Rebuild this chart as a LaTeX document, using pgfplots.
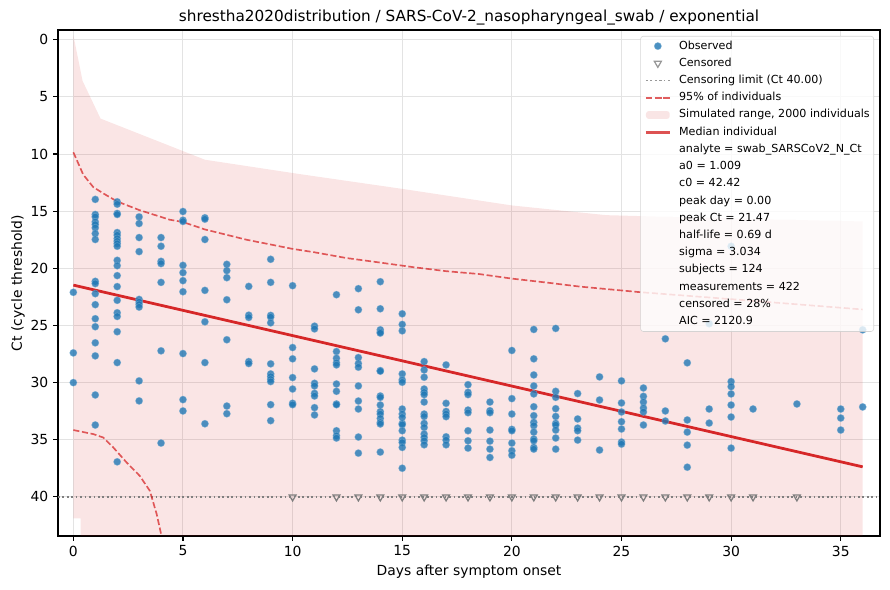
\documentclass[border=0pt]{standalone}
\usepackage{fontspec}
\setmainfont{DejaVu Sans}
\usepackage{pgfplots}
\pgfplotsset{compat=1.18}
\definecolor{tabblue}{HTML}{1F77B4}
\definecolor{tabred}{HTML}{D62728}
\definecolor{cengray}{HTML}{7F7F7F}
\begin{document}
\begin{tikzpicture}[x=1pt,y=1pt]
\path[use as bounding box] (0,0) rectangle (640.8,424.8);
\begin{axis}[
  at={(41.76pt,38.88pt)}, anchor=south west,
  width=591.84pt, height=364.32pt, scale only axis,
  xmin=-0.70, xmax=36.79,
  ymin=-0.85, ymax=43.42, y dir=reverse,
  xtick={0,5,...,35}, ytick={0,5,...,40},
  xtick pos=bottom, ytick pos=left,
  tick align=outside, major tick length=3.5pt,
  tick style={black, line width=0.8pt},
  axis line style={black, line width=0.8pt},
  grid=major, grid style={black!11, line width=0.7pt},
  /pgf/number format/assume math mode=true,
  ticklabel style={font=\fontsize{10}{12}\selectfont},
  xlabel={Days after symptom onset},
  ylabel={Ct (cycle threshold)},
  xlabel style={font=\fontsize{10}{12}\selectfont, at={(axis description cs:0.5,-0.0711)}, anchor=center},
  ylabel style={font=\fontsize{10}{12}\selectfont, at={(axis description cs:-0.0487,0.5)}, anchor=center, rotate=0},
  title={shrestha2020distribution / SARS-CoV-2\_nasopharyngeal\_swab / exponential},
  title style={font=\fontsize{11}{13}\selectfont, at={(axis description cs:0.5,1)}, anchor=base},
  legend style={at={(1,1)}, anchor=north east, xshift=-4.3pt, yshift=-4.3pt,
    draw=black!20, fill=white, fill opacity=0.8, draw opacity=0.8, text opacity=1,
    rounded corners=2pt, font=\fontsize{8}{9.6}\selectfont,
    inner xsep=2.9pt, inner ysep=3.2pt, row sep=4.6pt, column sep=5.8pt,
    nodes={inner xsep=0pt, inner ysep=0pt, text height=6pt, text depth=1.8pt},
    cells={anchor=west}},
]
% simulated range
\addplot[fill=tabred, fill opacity=0.12, draw=none, forget plot] coordinates {
 (0,-0.4) (0.42,3.6) (1.24,6.9) (6.0,10.5) (10.3,11.75) (15,13.05) (20,14.5) (24.3,15.35) (30,15.65) (36,15.9)
 (36,50) (0.34,50) (0.33,41.87) (0,41.87)
} -- cycle;
% observed
\addplot[only marks, mark=*, mark size=2.6pt, forget plot,
  mark options={fill=tabblue, draw=tabblue!60!white, fill opacity=0.8, draw opacity=0.6, line width=0.4pt}]
 coordinates {
 (0,22.1) (0,27.4) (0,30.0)
 (1,13.97) (1,15.29) (1,15.5) (1,15.94) (1,16.17) (1,16.46) (1,16.96) (1,17.48) (1,21.14) (1,21.34) (1,22.22) (1,23.18) (1,24.41) (1,25.11) (1,26.52) (1,27.66) (1,31.08) (1,33.71)
 (2,14.18) (2,14.39) (2,15.2) (2,15.29) (2,16.87) (2,17.1) (2,17.4) (2,17.63) (2,17.84) (2,18.07) (2,19.3) (2,19.77) (2,20.64) (2,21.6) (2,22.8) (2,23.89) (2,24.21) (2,25.55) (2,28.25) (2,36.93)
 (3,15.5) (3,16.08) (3,17.31) (3,18.54) (3,22.72) (3,22.95) (3,23.16) (3,23.39) (3,29.85) (3,31.6)
 (4,17.31) (4,18.07) (4,19.39) (4,19.59) (4,21.23) (4,27.22) (4,35.29)
 (5,15.03) (5,15.79) (5,15.9) (5,19.74) (5,20.38) (5,21.08) (5,22.05) (5,27.46) (5,31.49) (5,32.48)
 (6,15.58) (6,15.7) (6,17.48) (6,21.93) (6,24.68) (6,28.25) (6,33.6)
 (7,19.65) (7,20.2) (7,20.82) (7,22.75) (7,26.25) (7,32.05) (7,32.72)
 (8,21.58) (8,24.1) (8,24.3) (8,28.16) (8,28.33)
 (9,19.21) (9,21.23) (9,24.12) (9,24.27) (9,24.77) (9,28.36) (9,29.24) (9,29.47) (9,29.71) (9,29.91) (9,31.93) (9,33.33)
 (10,21.52) (10,26.93) (10,27.92) (10,29.56) (10,30.56) (10,31.81) (10,31.93)
 (11,25.06) (11,25.3) (11,28.8) (11,30.06) (11,30.29) (11,30.94) (11,31.17) (11,32.19) (11,32.83)
 (12,22.31) (12,27.28) (12,27.87) (12,28.27) (12,28.45) (12,30.12) (12,30.76) (12,31.87) (12,31.93) (12,34.21) (12,34.65) (12,34.85)
 (13,21.78) (13,23.63) (13,27.81) (13,28.33) (13,28.65) (13,30.29) (13,31.61) (13,32.31) (13,34.76) (13,36.17)
 (14,21.17) (14,23.54) (14,25.38) (14,25.58) (14,25.67) (14,28.95) (14,29.0) (14,31.17) (14,31.29) (14,31.96) (14,32.54) (14,32.75) (14,33.13) (14,33.48) (14,33.62) (14,36.08)
 (15,23.98) (15,24.91) (15,25.47) (15,29.24) (15,29.76) (15,29.97) (15,32.31) (15,32.75) (15,33.04) (15,33.57) (15,33.68) (15,34.21) (15,35.03) (15,35.24) (15,35.67) (15,37.49)
 (16,28.16) (16,28.89) (16,29.53) (16,30.56) (16,30.85) (16,31.05) (16,31.7) (16,32.75) (16,32.96) (16,33.57) (16,33.92) (16,34.5) (16,34.8) (16,35.09) (16,35.44)
 (17,28.45) (17,31.81) (17,32.52) (17,32.75) (17,32.98) (17,34.74) (17,35.03) (17,35.44)
 (18,30.18) (18,30.85) (18,31.05) (18,32.4) (18,32.63) (18,34.21) (18,35.09) (18,35.73)
 (19,31.7) (19,32.46) (19,32.63) (19,34.15) (19,35.12) (19,35.82) (19,36.55)
 (20,27.19) (20,31.4) (20,32.75) (20,34.09) (20,34.21) (20,35.29) (20,35.96) (20,36.35)
 (21,25.35) (21,27.92) (21,29.33) (21,30.29) (21,30.99) (21,32.11) (21,32.89) (21,33.48) (21,33.77) (21,34.33) (21,34.94) (21,35.09) (21,35.67) (21,35.82)
 (22,25.26) (22,30.76) (22,31.29) (22,32.28) (22,32.96) (22,33.57) (22,33.71) (22,34.15) (22,34.85) (22,35.82)
 (23,30.96) (23,33.18) (23,33.98) (23,34.21) (23,35.03)
 (24,29.5) (24,31.52) (24,35.9)
 (25,29.85) (25,31.78) (25,32.57) (25,33.42) (25,34.06) (25,35.2) (25,35.38)
 (26,30.47) (26,31.2) (26,31.7) (26,32.22) (26,32.57) (26,33.71)
 (27,26.17) (27,32.48) (27,33.36)
 (28,28.27) (28,33.27) (28,34.33) (28,35.47) (28,37.4)
 (29,24.85) (29,32.31) (29,33.54)
 (30,18.07) (30,29.91) (30,30.35) (30,30.99) (30,31.96) (30,33.01) (30,35.73)
 (31,32.31)
 (33,31.87)
 (35,32.31) (35,33.1) (35,34.15)
 (36,25.38) (36,32.13)
};
% censored
\addplot[only marks, mark=triangle, mark size=2.9pt, forget plot,
  mark options={rotate=180, draw=cengray, fill=none, line width=0.9pt}]
 coordinates {
 (10,40) (12,40) (13,40) (14,40) (15,40) (16,40) (17,40) (18,40) (19,40) (20,40) (21,40)
 (22,40) (23,40) (24,40) (25,40) (26,40) (27,40) (28,40) (29,40) (30,40) (31,40) (33,40)
};
% censoring limit
\addplot[cengray, line width=1.2pt, dash pattern=on 1.2pt off 2pt, forget plot] coordinates {(-0.70,40) (36.79,40)};
% 95% band
\addplot[tabred, opacity=0.75, line width=1.2pt, dash pattern=on 4.4pt off 1.9pt, forget plot] coordinates {
 (0,9.85) (0.45,11.8) (0.91,12.9) (1.5,13.6) (2,14.15) (3,14.9) (4.4,15.75) (5,15.95) (6,16.6) (7.9,17.5) (10,18.3) (11,18.6) (12.45,19.1) (14,19.5) (15.5,19.9) (17,20.25) (18.5,20.5) (20,20.9) (21.6,21.25) (23.1,21.6) (25.8,22.08) (30,22.7) (36,23.6)
};
\addplot[tabred, opacity=0.75, line width=1.2pt, dash pattern=on 4.4pt off 1.9pt, forget plot] coordinates {
 (0,34.15) (0.9,34.5) (1.36,34.8) (1.82,35.67) (2.43,36.99) (3.03,38.16) (3.49,39.47) (3.8,41.5) (4.02,43.4) (4.2,45)
};
% median
\addplot[tabred, line width=2pt, forget plot] coordinates {(0,21.47) (36,37.37)};
% legend
\addlegendimage{only marks, mark=*, mark size=2.6pt, mark options={fill=tabblue, draw=tabblue!60!white, fill opacity=0.8, draw opacity=0.6, line width=0.4pt}}
\addlegendentry{Observed}
\addlegendimage{only marks, mark=triangle, mark size=2.9pt, mark options={rotate=180, draw=cengray, fill=none, line width=0.9pt}}
\addlegendentry{Censored}
\addlegendimage{cengray, line width=1.2pt, dash pattern=on 1.2pt off 2pt}
\addlegendentry{Censoring limit (Ct 40.00)}
\addlegendimage{tabred, opacity=0.75, line width=1.2pt, dash pattern=on 4.4pt off 1.9pt}
\addlegendentry{95\% of individuals}
\addlegendimage{legend image code/.code={\fill[tabred, fill opacity=0.12, draw=none] (0cm,-0.1cm) rectangle (0.6cm,0.1cm);}}
\addlegendentry{Simulated range, 2000 individuals}
\addlegendimage{tabred, line width=2pt}
\addlegendentry{Median individual}
\addlegendimage{empty legend}\addlegendentry{analyte = swab\_SARSCoV2\_N\_Ct}
\addlegendimage{empty legend}\addlegendentry{a0 = 1.009}
\addlegendimage{empty legend}\addlegendentry{c0 = 42.42}
\addlegendimage{empty legend}\addlegendentry{peak day = 0.00}
\addlegendimage{empty legend}\addlegendentry{peak Ct = 21.47}
\addlegendimage{empty legend}\addlegendentry{half-life = 0.69 d}
\addlegendimage{empty legend}\addlegendentry{sigma = 3.034}
\addlegendimage{empty legend}\addlegendentry{subjects = 124}
\addlegendimage{empty legend}\addlegendentry{measurements = 422}
\addlegendimage{empty legend}\addlegendentry{censored = 28\%}
\addlegendimage{empty legend}\addlegendentry{AIC = 2120.9}
\end{axis}
\end{tikzpicture}
\end{document}
